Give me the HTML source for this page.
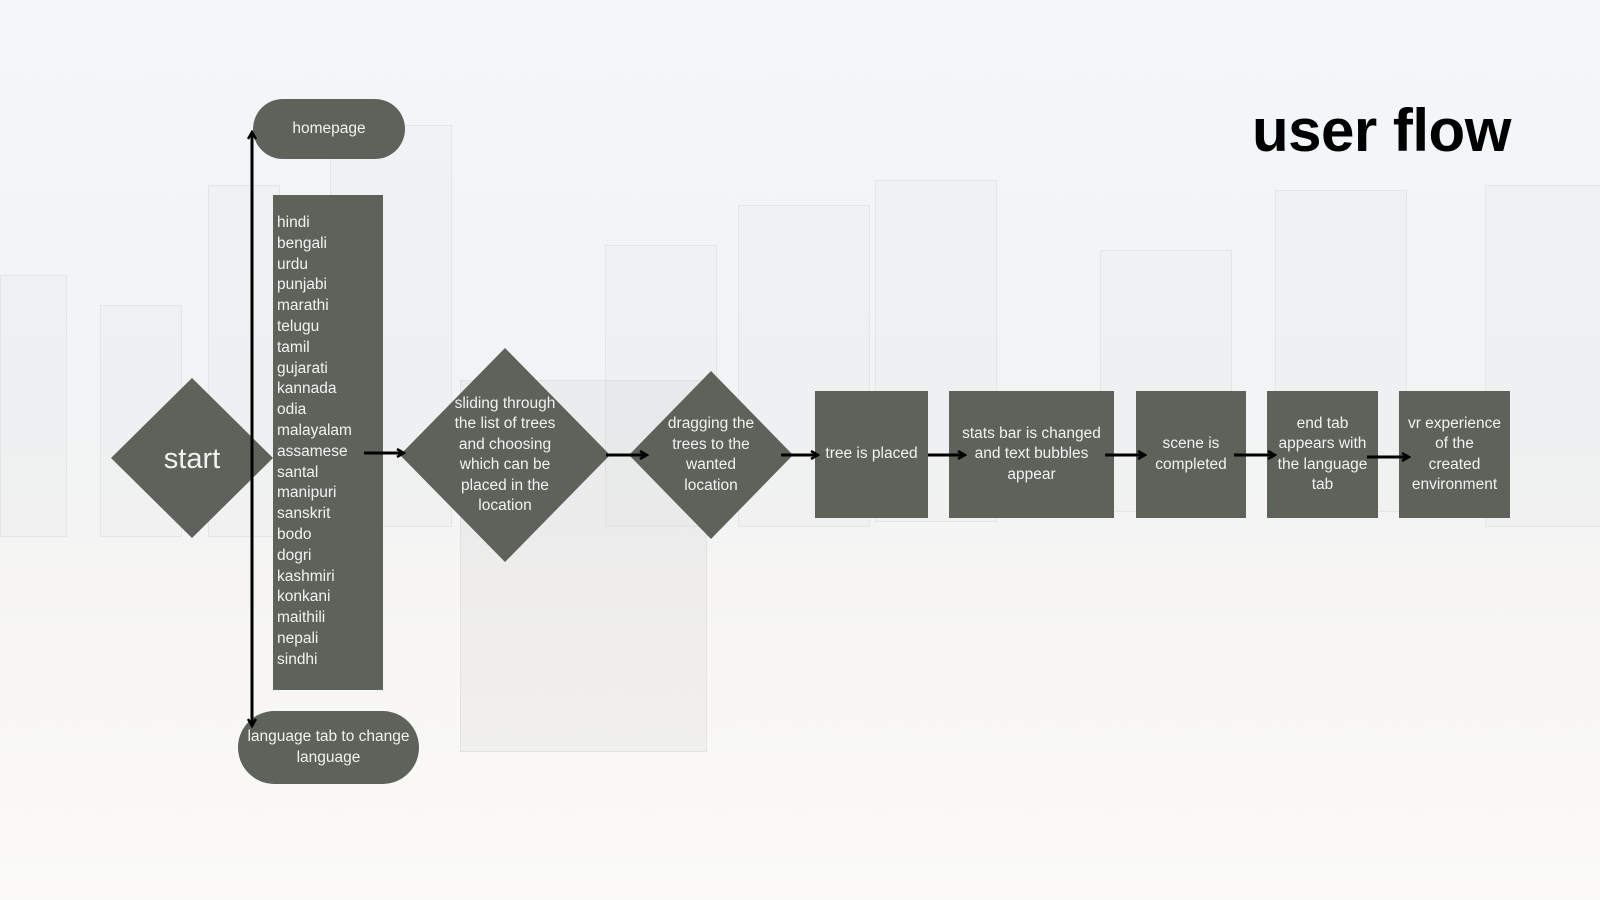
<!DOCTYPE html>
<html><head><meta charset="utf-8"><style>
html,body{margin:0;padding:0}
body{width:1600px;height:900px;position:relative;overflow:hidden;background:linear-gradient(#f4f7fa 0%,#f1f3f5 45%,#f6f5f3 65%,#fbfaf8 100%);font-family:"Liberation Sans",sans-serif}
.b{position:absolute;border:1px solid rgba(150,150,150,.12);background:rgba(225,227,230,.18)}
.n{position:absolute;background:#5d625b;color:#f2f2f0;font-size:15.5px;line-height:20.5px;text-align:center;display:flex;align-items:center;justify-content:center;box-sizing:border-box}
svg{position:absolute;left:0;top:0}
</style></head><body>
<div class="b" style="left:0;top:275px;width:65px;height:260px"></div>
<div class="b" style="left:100px;top:305px;width:80px;height:230px"></div>
<div class="b" style="left:208px;top:185px;width:70px;height:350px"></div>
<div class="b" style="left:330px;top:125px;width:120px;height:400px"></div>
<div class="b" style="left:605px;top:245px;width:110px;height:280px"></div>
<div class="b" style="left:738px;top:205px;width:130px;height:320px"></div>
<div class="b" style="left:875px;top:180px;width:120px;height:340px"></div>
<div class="b" style="left:1100px;top:250px;width:130px;height:260px"></div>
<div class="b" style="left:1275px;top:190px;width:130px;height:320px"></div>
<div class="b" style="left:1485px;top:185px;width:115px;height:340px"></div>
<div class="b" style="left:460px;top:380px;width:245px;height:370px;background:rgba(150,150,150,.08)"></div>

<div style="position:absolute;left:1252px;top:96px;font-size:60px;font-weight:bold;color:#000;letter-spacing:-0.5px">user flow</div>

<svg width="1600" height="900">
<polygon points="192,378 273,458 192,538 111,458" fill="#5d625b"/>
<polygon points="505,348 610,455 505,562 400,455" fill="#5d625b"/>
<polygon points="711,371 793,455 711,539 629,455" fill="#5d625b"/>
<text x="192" y="468" font-size="29" fill="#f2f2f0" text-anchor="middle" font-family="Liberation Sans, sans-serif">start</text>
</svg>

<div class="n" style="left:253px;top:99px;width:152px;height:60px;border-radius:30px">homepage</div>
<div class="n" style="left:238px;top:711px;width:181px;height:73px;border-radius:37px">language tab to change<br>language</div>
<div class="n" style="left:273px;top:195px;width:110px;height:495px;display:block;text-align:left;padding:18px 0 0 4px;line-height:20.8px">hindi<br>bengali<br>urdu<br>punjabi<br>marathi<br>telugu<br>tamil<br>gujarati<br>kannada<br>odia<br>malayalam<br>assamese<br>santal<br>manipuri<br>sanskrit<br>bodo<br>dogri<br>kashmiri<br>konkani<br>maithili<br>nepali<br>sindhi</div>
<div class="n" style="left:440px;top:390px;width:130px;height:130px;background:none">sliding through<br>the list of trees<br>and choosing<br>which can be<br>placed in the<br>location</div>
<div class="n" style="left:651px;top:410px;width:120px;height:90px;background:none">dragging the<br>trees to the<br>wanted<br>location</div>
<div class="n" style="left:815px;top:391px;width:113px;height:127px">tree is placed</div>
<div class="n" style="left:949px;top:391px;width:165px;height:127px">stats bar is changed<br>and text bubbles<br>appear</div>
<div class="n" style="left:1136px;top:391px;width:110px;height:127px">scene is<br>completed</div>
<div class="n" style="left:1267px;top:391px;width:111px;height:127px">end tab<br>appears with<br>the language<br>tab</div>
<div class="n" style="left:1399px;top:391px;width:111px;height:127px">vr experience<br>of the<br>created<br>environment</div>

<svg width="1600" height="900" style="z-index:5">
<defs><marker id="a" markerWidth="10" markerHeight="10" refX="8" refY="5" orient="auto" markerUnits="userSpaceOnUse"><path d="M1,1 L8,5 L1,9" fill="none" stroke="#000" stroke-width="2.5"/></marker></defs>
<g stroke="#000" stroke-width="3" fill="none">
<line x1="252" y1="458" x2="252" y2="132" marker-end="url(#a)"/>
<line x1="252" y1="458" x2="252" y2="726" marker-end="url(#a)"/>
<line x1="364" y1="453" x2="404" y2="453" marker-end="url(#a)"/>
<line x1="606" y1="455" x2="647" y2="455" marker-end="url(#a)"/>
<line x1="781" y1="455" x2="818" y2="455" marker-end="url(#a)"/>
<line x1="928" y1="455" x2="965" y2="455" marker-end="url(#a)"/>
<line x1="1105" y1="455" x2="1145" y2="455" marker-end="url(#a)"/>
<line x1="1234" y1="455" x2="1275" y2="455" marker-end="url(#a)"/>
<line x1="1367" y1="457" x2="1409" y2="457" marker-end="url(#a)"/>
</g>
</svg>
</body></html>
